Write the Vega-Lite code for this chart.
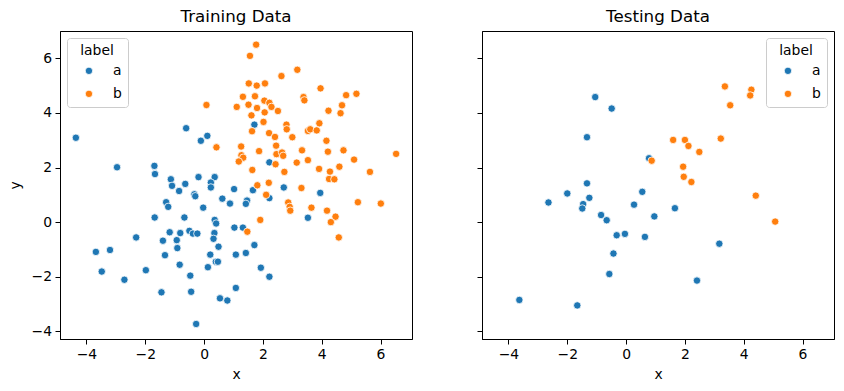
{
  "$schema": "https://vega.github.io/schema/vega-lite/v6.json",
  "padding": {"left": 7, "top": 8, "right": 5, "bottom": 5},
  "config": {
    "font": "DejaVu Sans",
    "view": {"stroke": "black", "strokeWidth": 1},
    "axis": {
      "domainColor": "black", "domainWidth": 1, "tickColor": "black", "tickWidth": 1, "tickSize": 5,
      "labelFontSize": 13.9, "labelColor": "black", "labelPadding": 3.5, "grid": false,
      "titleFontSize": 13.9, "titleFontWeight": "normal", "titleColor": "black", "titlePadding": 9
    },
    "axisX": {"titlePadding": 6},
    "title": {"fontSize": 16.7, "fontWeight": "normal", "color": "black", "offset": 5, "anchor": "middle"},
    "legend": {
      "strokeColor": "#cccccc", "fillColor": "white", "cornerRadius": 3, "padding": 6,
      "titleFontSize": 13.9, "titleFontWeight": "normal", "titleColor": "black", "titleAnchor": "middle",
      "labelFontSize": 13.9, "labelColor": "black", "symbolType": "circle", "symbolSize": 55,
      "symbolStrokeColor": "white", "symbolStrokeWidth": 0.8, "symbolOpacity": 1,
      "labelOffset": 17, "rowPadding": 8, "titlePadding": 6, "offset": 7, "symbolOffset": 9
    }
  },
  "datasets": {
    "train": [
      {"x": -4.36, "y": 3.09, "label": "a"}, {"x": -2.96, "y": 2.01, "label": "a"}, {"x": -1.69, "y": 2.06, "label": "a"},
      {"x": -1.67, "y": 1.76, "label": "a"}, {"x": -1.13, "y": 1.57, "label": "a"}, {"x": -1.09, "y": 1.33, "label": "a"},
      {"x": 1.71, "y": 3.57, "label": "a"}, {"x": -0.61, "y": 3.44, "label": "a"}, {"x": 0.11, "y": 3.16, "label": "a"},
      {"x": -0.11, "y": 2.98, "label": "a"}, {"x": 2.22, "y": 2.19, "label": "a"}, {"x": -0.19, "y": 1.65, "label": "a"},
      {"x": 0.36, "y": 1.65, "label": "a"}, {"x": 0.23, "y": 1.45, "label": "a"}, {"x": 0.23, "y": 1.27, "label": "a"},
      {"x": -0.64, "y": 1.40, "label": "a"}, {"x": -0.85, "y": 1.14, "label": "a"}, {"x": 2.71, "y": 1.27, "label": "a"},
      {"x": 1.02, "y": 1.21, "label": "a"}, {"x": 1.66, "y": 1.17, "label": "a"}, {"x": 3.95, "y": 1.07, "label": "a"},
      {"x": 3.53, "y": 0.16, "label": "a"}, {"x": -0.33, "y": 1.02, "label": "a"}, {"x": -0.30, "y": 0.95, "label": "a"},
      {"x": 2.22, "y": 0.88, "label": "a"}, {"x": 0.62, "y": 0.86, "label": "a"}, {"x": 0.88, "y": 0.68, "label": "a"},
      {"x": 1.46, "y": 0.79, "label": "a"}, {"x": 1.42, "y": 0.67, "label": "a"}, {"x": -1.29, "y": 0.73, "label": "a"},
      {"x": -1.22, "y": 0.56, "label": "a"}, {"x": -0.03, "y": 0.53, "label": "a"}, {"x": -0.67, "y": 0.17, "label": "a"},
      {"x": 0.36, "y": 0.08, "label": "a"}, {"x": 0.41, "y": -0.05, "label": "a"}, {"x": 1.03, "y": -0.20, "label": "a"},
      {"x": 1.32, "y": -0.20, "label": "a"}, {"x": -1.17, "y": -0.37, "label": "a"}, {"x": -0.81, "y": -0.40, "label": "a"},
      {"x": -0.50, "y": -0.32, "label": "a"}, {"x": -0.38, "y": -0.42, "label": "a"}, {"x": -0.23, "y": -0.42, "label": "a"},
      {"x": 0.35, "y": -0.40, "label": "a"}, {"x": 0.32, "y": -0.61, "label": "a"}, {"x": -1.40, "y": -0.68, "label": "a"},
      {"x": -0.93, "y": -0.66, "label": "a"}, {"x": -0.91, "y": -0.95, "label": "a"}, {"x": 0.49, "y": -0.90, "label": "a"},
      {"x": 1.71, "y": -0.84, "label": "a"}, {"x": -1.33, "y": -1.21, "label": "a"}, {"x": 0.21, "y": -1.19, "label": "a"},
      {"x": 1.08, "y": -1.19, "label": "a"}, {"x": 1.42, "y": -1.13, "label": "a"}, {"x": 0.40, "y": -1.45, "label": "a"},
      {"x": 0.47, "y": -1.45, "label": "a"}, {"x": -0.83, "y": -1.56, "label": "a"}, {"x": 0.13, "y": -1.65, "label": "a"},
      {"x": 1.93, "y": -1.67, "label": "a"}, {"x": -0.47, "y": -1.96, "label": "a"}, {"x": 2.22, "y": -2.00, "label": "a"},
      {"x": -1.45, "y": -2.57, "label": "a"}, {"x": -0.44, "y": -2.55, "label": "a"}, {"x": 1.08, "y": -2.41, "label": "a"},
      {"x": 0.54, "y": -2.79, "label": "a"}, {"x": 0.79, "y": -2.87, "label": "a"}, {"x": -0.27, "y": -3.73, "label": "a"},
      {"x": -1.68, "y": 0.17, "label": "a"}, {"x": -2.31, "y": -0.56, "label": "a"}, {"x": -3.68, "y": -1.09, "label": "a"},
      {"x": -3.20, "y": -1.02, "label": "a"}, {"x": -3.48, "y": -1.81, "label": "a"}, {"x": -2.71, "y": -2.11, "label": "a"},
      {"x": -1.98, "y": -1.76, "label": "a"},
      {"x": 1.77, "y": 6.50, "label": "b"}, {"x": 1.56, "y": 6.09, "label": "b"}, {"x": 2.63, "y": 5.35, "label": "b"},
      {"x": 1.52, "y": 5.08, "label": "b"}, {"x": 1.79, "y": 5.00, "label": "b"}, {"x": 2.07, "y": 5.08, "label": "b"},
      {"x": 1.32, "y": 4.59, "label": "b"}, {"x": 1.73, "y": 4.61, "label": "b"}, {"x": 2.05, "y": 4.45, "label": "b"},
      {"x": 2.22, "y": 4.37, "label": "b"}, {"x": 2.29, "y": 4.22, "label": "b"}, {"x": 0.08, "y": 4.29, "label": "b"},
      {"x": 1.11, "y": 4.22, "label": "b"}, {"x": 1.51, "y": 4.30, "label": "b"}, {"x": 1.80, "y": 4.18, "label": "b"},
      {"x": 2.51, "y": 4.07, "label": "b"}, {"x": 1.61, "y": 3.91, "label": "b"}, {"x": 2.06, "y": 4.02, "label": "b"},
      {"x": 2.02, "y": 3.67, "label": "b"}, {"x": 2.80, "y": 3.57, "label": "b"}, {"x": 2.81, "y": 3.40, "label": "b"},
      {"x": 1.63, "y": 3.33, "label": "b"}, {"x": 2.21, "y": 3.26, "label": "b"}, {"x": 2.41, "y": 3.12, "label": "b"},
      {"x": 0.42, "y": 2.74, "label": "b"}, {"x": 1.26, "y": 2.77, "label": "b"}, {"x": 2.45, "y": 2.80, "label": "b"},
      {"x": 1.87, "y": 2.60, "label": "b"}, {"x": 1.27, "y": 2.45, "label": "b"}, {"x": 1.33, "y": 2.36, "label": "b"},
      {"x": 1.18, "y": 2.22, "label": "b"}, {"x": 2.46, "y": 2.49, "label": "b"}, {"x": 2.65, "y": 2.55, "label": "b"},
      {"x": 2.69, "y": 2.43, "label": "b"}, {"x": 2.43, "y": 2.12, "label": "b"}, {"x": 2.73, "y": 1.84, "label": "b"},
      {"x": 1.64, "y": 1.91, "label": "b"}, {"x": 1.81, "y": 1.35, "label": "b"}, {"x": 2.20, "y": 1.44, "label": "b"},
      {"x": 3.17, "y": 5.58, "label": "b"}, {"x": 3.96, "y": 4.90, "label": "b"}, {"x": 3.38, "y": 4.58, "label": "b"},
      {"x": 3.41, "y": 4.46, "label": "b"}, {"x": 4.83, "y": 4.65, "label": "b"}, {"x": 5.18, "y": 4.70, "label": "b"},
      {"x": 4.69, "y": 4.28, "label": "b"}, {"x": 4.64, "y": 3.99, "label": "b"}, {"x": 4.23, "y": 4.08, "label": "b"},
      {"x": 3.00, "y": 3.11, "label": "b"}, {"x": 3.53, "y": 3.34, "label": "b"}, {"x": 3.61, "y": 3.40, "label": "b"},
      {"x": 3.83, "y": 3.36, "label": "b"}, {"x": 3.92, "y": 3.62, "label": "b"}, {"x": 4.16, "y": 2.98, "label": "b"},
      {"x": 3.33, "y": 2.63, "label": "b"}, {"x": 4.21, "y": 2.58, "label": "b"}, {"x": 4.74, "y": 2.63, "label": "b"},
      {"x": 6.53, "y": 2.50, "label": "b"}, {"x": 3.15, "y": 2.18, "label": "b"}, {"x": 3.53, "y": 2.27, "label": "b"},
      {"x": 5.10, "y": 2.29, "label": "b"}, {"x": 3.91, "y": 1.95, "label": "b"}, {"x": 4.28, "y": 1.85, "label": "b"},
      {"x": 4.60, "y": 2.03, "label": "b"}, {"x": 5.64, "y": 1.84, "label": "b"}, {"x": 4.25, "y": 1.58, "label": "b"},
      {"x": 4.43, "y": 1.57, "label": "b"}, {"x": 3.31, "y": 1.25, "label": "b"}, {"x": 2.86, "y": 0.72, "label": "b"},
      {"x": 2.91, "y": 0.56, "label": "b"}, {"x": 2.93, "y": 0.42, "label": "b"}, {"x": 3.65, "y": 0.53, "label": "b"},
      {"x": 4.18, "y": 0.42, "label": "b"}, {"x": 4.47, "y": 0.20, "label": "b"}, {"x": 4.31, "y": 0.00, "label": "b"},
      {"x": 4.58, "y": -0.56, "label": "b"}, {"x": 5.23, "y": 0.73, "label": "b"}, {"x": 6.01, "y": 0.68, "label": "b"},
      {"x": 2.11, "y": 1.00, "label": "b"}, {"x": 1.91, "y": 0.08, "label": "b"}, {"x": 1.47, "y": -0.35, "label": "b"}
    ],
    "test": [
      {"x": -1.05, "y": 4.58, "label": "a"}, {"x": -0.49, "y": 4.16, "label": "a"}, {"x": -1.33, "y": 3.11, "label": "a"},
      {"x": 0.78, "y": 2.34, "label": "a"}, {"x": -1.33, "y": 1.42, "label": "a"}, {"x": -2.00, "y": 1.05, "label": "a"},
      {"x": -2.64, "y": 0.72, "label": "a"}, {"x": -1.46, "y": 0.66, "label": "a"}, {"x": -1.49, "y": 0.50, "label": "a"},
      {"x": -1.25, "y": 0.89, "label": "a"}, {"x": -0.85, "y": 0.26, "label": "a"}, {"x": -0.66, "y": 0.07, "label": "a"},
      {"x": -0.32, "y": -0.48, "label": "a"}, {"x": -0.04, "y": -0.43, "label": "a"}, {"x": -0.43, "y": -1.15, "label": "a"},
      {"x": -0.57, "y": -1.90, "label": "a"}, {"x": -3.63, "y": -2.85, "label": "a"}, {"x": -1.66, "y": -3.05, "label": "a"},
      {"x": 0.27, "y": 0.64, "label": "a"}, {"x": 0.55, "y": 1.11, "label": "a"}, {"x": 0.64, "y": -0.54, "label": "a"},
      {"x": 0.96, "y": 0.21, "label": "a"}, {"x": 1.66, "y": 0.51, "label": "a"}, {"x": 3.17, "y": -0.79, "label": "a"},
      {"x": 2.41, "y": -2.14, "label": "a"},
      {"x": 0.87, "y": 2.25, "label": "b"}, {"x": 3.36, "y": 4.97, "label": "b"}, {"x": 4.26, "y": 4.85, "label": "b"},
      {"x": 4.22, "y": 4.64, "label": "b"}, {"x": 3.54, "y": 4.28, "label": "b"}, {"x": 1.60, "y": 3.01, "label": "b"},
      {"x": 2.00, "y": 3.01, "label": "b"}, {"x": 2.12, "y": 2.79, "label": "b"}, {"x": 3.22, "y": 3.06, "label": "b"},
      {"x": 2.49, "y": 2.57, "label": "b"}, {"x": 1.94, "y": 2.03, "label": "b"}, {"x": 1.96, "y": 1.66, "label": "b"},
      {"x": 2.22, "y": 1.47, "label": "b"}, {"x": 4.41, "y": 0.97, "label": "b"}, {"x": 5.07, "y": 0.02, "label": "b"}
    ]
  },
  "spacing": 63,
  "hconcat": [
    {
      "title": "Training Data",
      "width": 352, "height": 308,
      "data": {"name": "train"},
      "mark": {"type": "circle", "size": 55, "opacity": 1, "stroke": "white", "strokeWidth": 0.8},
      "encoding": {
        "x": {"field": "x", "type": "quantitative", "scale": {"domain": [-4.9, 7.07], "nice": false, "zero": false},
              "axis": {"values": [-4, -2, 0, 2, 4, 6], "title": "x"}},
        "y": {"field": "y", "type": "quantitative", "scale": {"domain": [-4.28, 7.0], "nice": false, "zero": false},
              "axis": {"values": [-4, -2, 0, 2, 4, 6], "title": "y"}},
        "color": {"field": "label", "type": "nominal", "scale": {"domain": ["a", "b"], "range": ["#1f77b4", "#ff7f0e"]},
                  "legend": {"orient": "top-left", "title": "label"}}
      }
    },
    {
      "title": "Testing Data",
      "width": 352, "height": 308,
      "data": {"name": "test"},
      "mark": {"type": "circle", "size": 55, "opacity": 1, "stroke": "white", "strokeWidth": 0.8},
      "encoding": {
        "x": {"field": "x", "type": "quantitative", "scale": {"domain": [-4.9, 7.07], "nice": false, "zero": false},
              "axis": {"values": [-4, -2, 0, 2, 4, 6], "title": "x"}},
        "y": {"field": "y", "type": "quantitative", "scale": {"domain": [-4.28, 7.0], "nice": false, "zero": false},
              "axis": {"values": [-4, -2, 0, 2, 4, 6], "title": null, "labels": false}},
        "color": {"field": "label", "type": "nominal", "scale": {"domain": ["a", "b"], "range": ["#1f77b4", "#ff7f0e"]},
                  "legend": {"orient": "top-right", "title": "label"}}
      }
    }
  ],
  "resolve": {"legend": {"color": "independent"}, "scale": {"color": "shared"}}
}
